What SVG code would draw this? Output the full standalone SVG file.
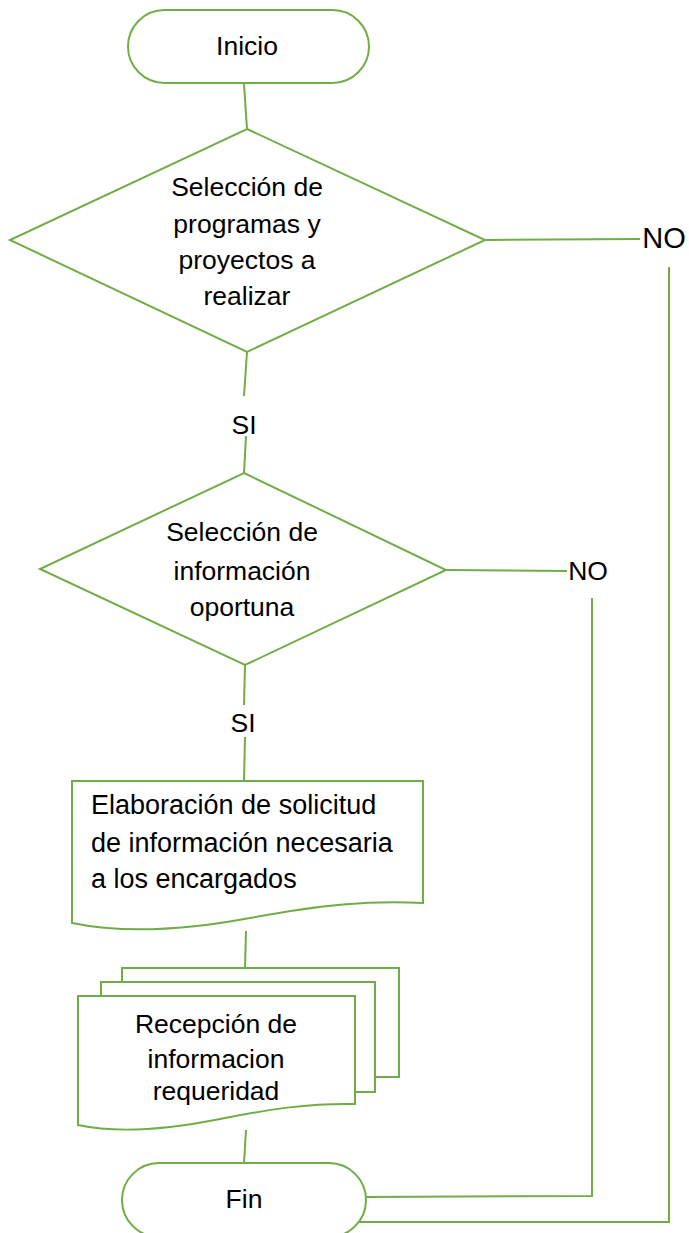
<svg xmlns="http://www.w3.org/2000/svg" width="689" height="1233" viewBox="0 0 689 1233">
<style>
.s{fill:#fff;stroke:#70AD47;stroke-width:2}
.l{fill:none;stroke:#70AD47;stroke-width:2}
.t{font-family:"Liberation Sans",Arial,sans-serif;font-size:26.5px;fill:#000;text-anchor:middle}
.tl{font-family:"Liberation Sans",Arial,sans-serif;font-size:27px;fill:#000}
</style>
<rect width="689" height="1233" fill="#fff"/>
<g id="connectors">
<path class="l" d="M244,84 L247,129"/>
<path class="l" d="M247,352 L244,396"/>
<path class="l" d="M246,436 L244,473"/>
<path class="l" d="M245,665 L244,705"/>
<path class="l" d="M245,737 L244,781"/>
<path class="l" d="M246,931 L245,968"/>
<path class="l" d="M246,1130 L244,1163"/>
<path class="l" d="M485,240 L640,239"/>
<path class="l" d="M669,267 L669,1222 L348,1222"/>
<path class="l" d="M446,570 L567,571"/>
<path class="l" d="M592,598 L592,1196 L366,1197"/>
<text class="t" x="664" y="248" style="font-size:29px">NO</text>
<text class="t" x="588" y="580">NO</text>
<text class="t" x="244" y="434">SI</text>
<text class="t" x="243" y="732">SI</text>
</g>
<g id="inicio">
<rect class="s" x="128" y="10" width="241" height="73" rx="36.5"/>
<text class="t" x="247" y="55">Inicio</text>
</g>
<g id="decision1">
<polygon class="s" points="247,129 485,240 247,352 10,240"/>
<text class="t" x="247" y="196">Selección de</text>
<text class="t" x="247" y="233">programas y</text>
<text class="t" x="247" y="269">proyectos a</text>
<text class="t" x="247" y="305">realizar</text>
</g>
<g id="decision2">
<polygon class="s" points="244,473 446,570 245,665 40,569"/>
<text class="t" x="242" y="541">Selección de</text>
<text class="t" x="242" y="580">información</text>
<text class="t" x="242" y="616">oportuna</text>
</g>
<g id="solicitud">
<path class="s" d="M72,781 H423 V903 C370,900 320,905 250,918 C180,931 120,933 72,923 Z"/>
<text class="tl" x="91" y="814">Elaboración de solicitud</text>
<text class="tl" x="91" y="852">de información necesaria</text>
<text class="tl" x="91" y="888">a los encargados</text>
</g>
<g id="recepcion">
<path class="s" d="M122,982 V968 H399 V1077 H375"/>
<path class="s" d="M101,996 V982 H375 V1092 H355"/>
<path class="s" d="M78,996 H355 V1104 C310,1103 270,1109 220,1119 C160,1131 115,1133 78,1125 Z"/>
<text class="t" x="216" y="1033">Recepción de</text>
<text class="t" x="216" y="1068">informacion</text>
<text class="t" x="216" y="1100">requeridad</text>
</g>
<g id="fin">
<rect class="s" x="122" y="1163" width="244" height="74" rx="37"/>
<text class="t" x="244" y="1208">Fin</text>
</g>
</svg>
